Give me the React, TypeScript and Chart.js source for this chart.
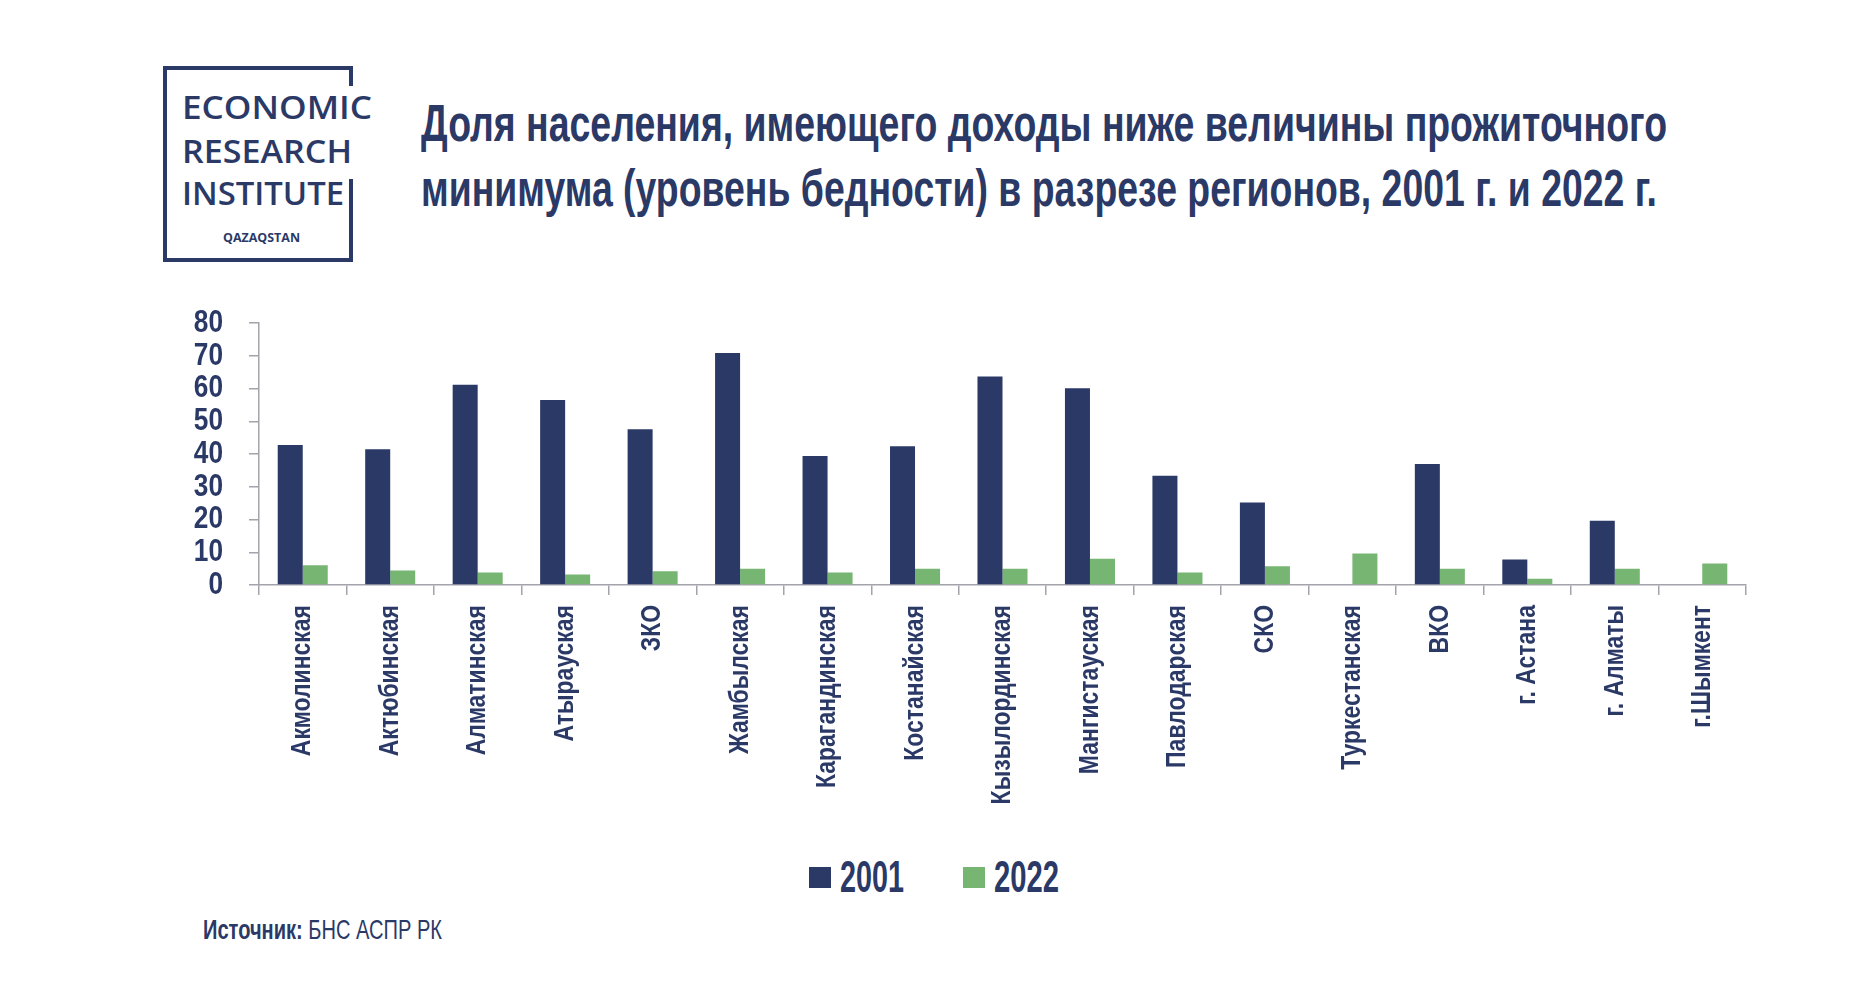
import React, { useEffect, useLayoutEffect, useRef } from "react";
import { Chart, registerables } from "chart.js";

Chart.register(...registerables);

// ---------- data ----------
const REGIONS: string[] = [
  "Акмолинская",
  "Актюбинская",
  "Алматинская",
  "Атырауская",
  "ЗКО",
  "Жамбылская",
  "Карагандинская",
  "Костанайская",
  "Кызылординская",
  "Мангистауская",
  "Павлодарская",
  "СКО",
  "Туркестанская",
  "ВКО",
  "г. Астана",
  "г. Алматы",
  "г.Шымкент",
];
const SERIES_NAMES: string[] = ["2001", "2022"];
const VALUES_2001: (number | null)[] = [
  42.8, 41.5, 61.2, 56.5, 47.6, 70.9, 39.4, 42.4, 63.7, 60.1, 33.4, 25.2, null, 37.0, 7.8, 19.6, null,
];
const VALUES_2022: (number | null)[] = [
  6.0, 4.4, 3.8, 3.2, 4.2, 5.0, 3.8, 5.0, 5.0, 8.0, 3.8, 5.7, 9.6, 5.0, 1.9, 5.0, 6.6,
];
const Y_MIN = 0;
const Y_MAX = 80;
const Y_STEP = 10;

const TITLE_LINES: string[] = [
  "Доля населения, имеющего доходы ниже величины прожиточного",
  "минимума (уровень бедности) в разрезе регионов, 2001 г. и 2022 г.",
];
const SOURCE_LABEL = "Источник:";
const SOURCE_TEXT = " БНС АСПР РК";
const LOGO_LINES: string[] = ["ECONOMIC", "RESEARCH", "INSTITUTE"];
const LOGO_SUB = "QAZAQSTAN";

// ---------- styles ----------
const NAVY = "#2b3967";
const GREEN = "#77b572";
const AXIS = "#a3a3ab";
const SERIES_COLORS = [NAVY, GREEN];
const NARROW = '"Liberation Sans", Arial, sans-serif';
const LOGO_FONT = '"Open Sans", "Noto Sans", sans-serif';
const CANVAS_TEXT_SCALE = 0.82; // horizontal condensation of canvas text

// draws canvas text horizontally condensed (narrow font look)
const condensedTextPlugin = {
  id: "condensedText",
  beforeDraw(chart: any) {
    const ctx = chart.ctx as any;
    if (ctx.__condensed) return;
    ctx.__condensed = true;
    const orig = ctx.fillText;
    ctx.fillText = function (text: string, x: number, y: number, maxWidth?: number) {
      ctx.save();
      ctx.translate(x, y);
      ctx.scale(CANVAS_TEXT_SCALE, 1);
      if (maxWidth === undefined || maxWidth === null) orig.call(ctx, text, 0, 0);
      else orig.call(ctx, text, 0, 0, maxWidth / CANVAS_TEXT_SCALE);
      ctx.restore();
    };
  },
};

function FitText(props: { width: number; style?: React.CSSProperties; children: React.ReactNode }) {
  const ref = useRef<HTMLSpanElement>(null);
  useLayoutEffect(() => {
    const fit = () => {
      const el = ref.current;
      if (!el) return;
      el.style.transform = "none";
      const w = el.getBoundingClientRect().width;
      if (w > 0) el.style.transform = `scaleX(${props.width / w})`;
    };
    fit();
    if ((document as any).fonts && (document as any).fonts.ready) {
      (document as any).fonts.ready.then(fit);
    }
  }, [props.width]);
  return (
    <span
      ref={ref}
      style={{
        display: "inline-block",
        whiteSpace: "pre",
        transformOrigin: "0 0",
        lineHeight: 1,
        ...props.style,
      }}
    >
      {props.children}
    </span>
  );
}

function BarChart() {
  const canvasRef = useRef<HTMLCanvasElement>(null);
  useEffect(() => {
    if (!canvasRef.current) return;
    const chart = new Chart(canvasRef.current, {
      type: "bar",
      data: {
        labels: REGIONS,
        datasets: [
          { label: SERIES_NAMES[0], data: VALUES_2001, backgroundColor: SERIES_COLORS[0], borderWidth: 0 },
          { label: SERIES_NAMES[1], data: VALUES_2022, backgroundColor: SERIES_COLORS[1], borderWidth: 0 },
        ],
      },
      plugins: [condensedTextPlugin],
      options: {
        animation: false,
        responsive: false,
        devicePixelRatio: 1,
        layout: { padding: { left: 0, right: 54, top: 32, bottom: 0 } },
        datasets: { bar: { categoryPercentage: 0.572, barPercentage: 1.0 } } as any,
        plugins: { legend: { display: false }, tooltip: { enabled: false } },
        scales: {
          x: {
            grid: {
              offset: true,
              drawOnChartArea: false,
              drawTicks: true,
              tickLength: 10,
              color: AXIS,
              lineWidth: 1.5,
            },
            border: { color: AXIS, width: 1.5 },
            ticks: {
              autoSkip: false,
              minRotation: 90,
              maxRotation: 90,
              padding: 10,
              color: NAVY,
              font: { family: NARROW, size: 28, weight: "bold" },
            },
            afterFit: (s: any) => {
              s.height = 250;
            },
          },
          y: {
            min: Y_MIN,
            max: Y_MAX,
            ticks: {
              stepSize: Y_STEP,
              autoSkip: false,
              padding: 26,
              color: NAVY,
              font: { family: NARROW, size: 32, weight: "bold" },
            },
            grid: {
              drawOnChartArea: false,
              drawTicks: true,
              tickLength: 10,
              color: AXIS,
              lineWidth: 1.5,
            },
            border: { color: AXIS, width: 1.5 },
            afterFit: (s: any) => {
              s.width = 159;
            },
          },
        },
      },
    });
    return () => chart.destroy();
  }, []);
  return (
    <canvas
      ref={canvasRef}
      width={1700}
      height={557}
      style={{ position: "absolute", left: 100, top: 278, width: 1700, height: 557 }}
    />
  );
}

export default function App() {
  const LEGEND_X = [809, 963];
  const LEGEND_TEXT_W = [64, 65];
  return (
    <div
      style={{
        position: "absolute",
        left: 0,
        top: 0,
        width: 1872,
        height: 994,
        background: "#ffffff",
        overflow: "hidden",
      }}
    >
      {/* logo frame */}
      <div style={{ position: "absolute", left: 163, top: 66, width: 190, height: 4, background: NAVY }} />
      <div style={{ position: "absolute", left: 163, top: 66, width: 4, height: 196, background: NAVY }} />
      <div style={{ position: "absolute", left: 163, top: 258, width: 190, height: 4, background: NAVY }} />
      <div style={{ position: "absolute", left: 349, top: 66, width: 4, height: 20, background: NAVY }} />
      <div style={{ position: "absolute", left: 349, top: 179, width: 4, height: 83, background: NAVY }} />
      {LOGO_LINES.map((t, i) => (
        <div key={t} style={{ position: "absolute", left: 182, top: [119, 163, 205][i] - 29.3 }}>
          <FitText
            width={[190, 170, 162][i]}
            style={{ fontFamily: LOGO_FONT, fontWeight: 600, fontSize: 33, color: NAVY }}
          >
            {t}
          </FitText>
        </div>
      ))}
      <div style={{ position: "absolute", left: 223, top: 239 - 10.7 }}>
        <FitText width={77} style={{ fontFamily: LOGO_FONT, fontWeight: 700, fontSize: 12, color: NAVY }}>
          {LOGO_SUB}
        </FitText>
      </div>

      {/* title */}
      {TITLE_LINES.map((t, i) => (
        <div key={i} style={{ position: "absolute", left: 421, top: [141, 206][i] - 44 }}>
          <FitText
            width={[1246, 1236][i]}
            style={{ fontFamily: NARROW, fontWeight: 700, fontSize: 52, color: NAVY }}
          >
            {t}
          </FitText>
        </div>
      ))}

      <BarChart />

      {/* legend */}
      {SERIES_NAMES.map((name, i) => (
        <React.Fragment key={name}>
          <div
            style={{
              position: "absolute",
              left: LEGEND_X[i],
              top: 867,
              width: 22,
              height: 21,
              background: SERIES_COLORS[i],
            }}
          />
          <div style={{ position: "absolute", left: LEGEND_X[i] + 31, top: 892 - 37.2 }}>
            <FitText
              width={LEGEND_TEXT_W[i]}
              style={{ fontFamily: NARROW, fontWeight: 700, fontSize: 44, color: NAVY }}
            >
              {name}
            </FitText>
          </div>
        </React.Fragment>
      ))}

      {/* source */}
      <div style={{ position: "absolute", left: 203, top: 940 - 23.7 }}>
        <FitText width={239} style={{ fontFamily: NARROW, fontSize: 28, color: NAVY }}>
          <span style={{ fontWeight: 700 }}>{SOURCE_LABEL}</span>
          <span style={{ fontWeight: 400 }}>{SOURCE_TEXT}</span>
        </FitText>
      </div>
    </div>
  );
}
